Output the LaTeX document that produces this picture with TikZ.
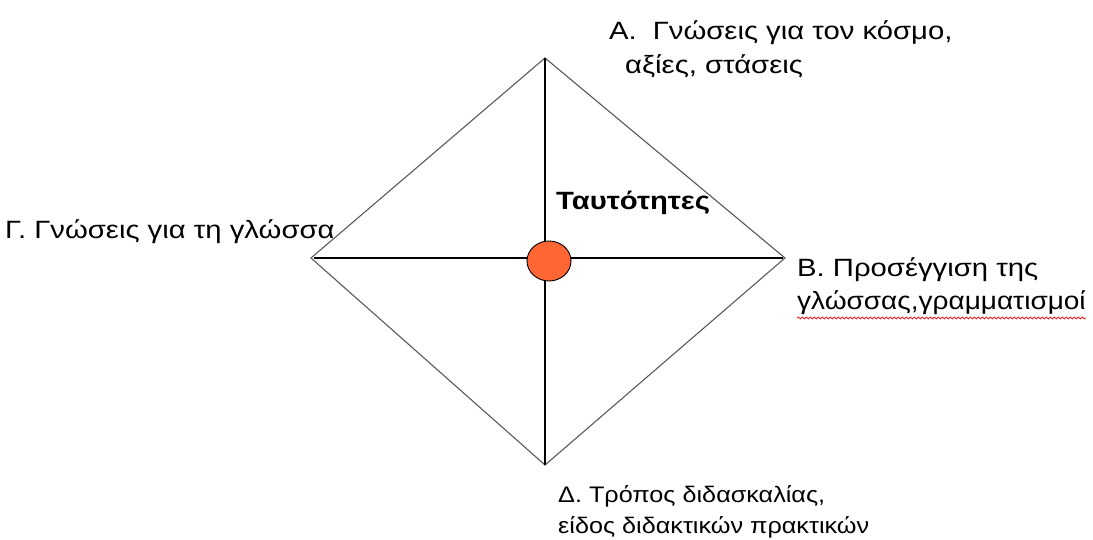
\documentclass[tikz,border=0pt]{standalone}
\usepackage{fontspec}
\setmainfont{Liberation Sans}[FakeStretch=1.17]
\newfontfamily\narrowfont{Liberation Sans}[FakeStretch=1.12]
\usetikzlibrary{decorations.pathmorphing,shapes.geometric}
\definecolor{dotorange}{HTML}{FF6633}
\definecolor{edgegray}{HTML}{5A5A5A}
\begin{document}
\begin{tikzpicture}[x=1pt,y=1pt,
  lbl/.style={anchor=base west,inner sep=0pt,font=\fontsize{25}{30}\selectfont},
  small lbl/.style={anchor=base west,inner sep=0pt,font=\narrowfont\fontsize{22.5}{27}\selectfont},
  thin edge/.style={draw=edgegray,line width=1.1pt},
  axis/.style={draw=black,line width=2.6pt}]
\useasboundingbox (0,0) rectangle (1093,-540);
\coordinate (top) at (545,-58);
\coordinate (bottom) at (545,-465);
\coordinate (left) at (311,-258);
\coordinate (right) at (785,-258);
\coordinate (hl) at (314,-258);
\coordinate (hr) at (783,-258);
% diamond
\draw[thin edge] (top) -- (right) -- (bottom) -- (left) -- cycle;
% axes
\draw[axis] (top) -- (bottom);
\draw[axis] (hl) -- (hr);
% centre dot
\node[ellipse,draw=black,line width=0.9pt,fill=dotorange,minimum width=44pt,minimum height=40pt,inner sep=0pt] (dot) at (549,-261) {};
% labels
\node[lbl] (a1) at (609,-40) {A.\hspace{16pt}Γνώσεις για τον κόσμο,};
\node[lbl] (a2) at (625,-74) {αξίες, στάσεις};
\node[lbl,font=\fontsize{25}{30}\selectfont\bfseries] (t) at (556,-210) {Ταυτότητες};
\node[lbl] (g) at (5,-239) {Γ. Γνώσεις για τη γλώσσα};
\node[lbl] (b1) at (797,-277) {B. Προσέγγιση της};
\node[lbl,font=\narrowfont\fontsize{25}{30}\selectfont] (b2) at (797,-309) {γλώσσας,γραμματισμοί};
\draw[red,line width=0.7pt,decorate,decoration={snake,segment length=4pt,amplitude=1pt}]
  ([yshift=-9pt]b2.base west) -- ([yshift=-9pt]b2.base east);
\node[small lbl] (d1) at (558,-502) {Δ. Τρόπος διδασκαλίας,};
\node[small lbl] (d2) at (558,-533) {είδος διδακτικών πρακτικών};
\end{tikzpicture}
\end{document}
